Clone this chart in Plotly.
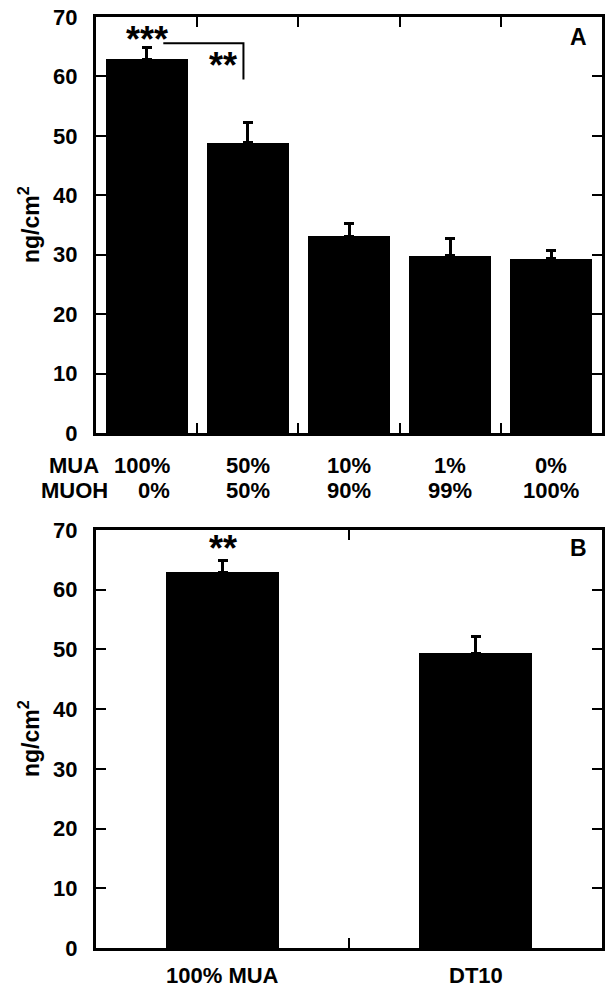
import plotly.graph_objects as go
from plotly.subplots import make_subplots

# ---- data ----
mua_pct = ["100%", "50%", "10%", "1%", "0%"]
muoh_pct = ["0%", "50%", "90%", "99%", "100%"]
top_values = [62.9, 48.8, 33.1, 29.8, 29.3]
top_errors = [2.0, 3.4, 2.1, 2.9, 1.4]

bottom_labels = ["100% MUA", "DT10"]
bottom_values = [62.9, 49.4]
bottom_errors = [2.0, 2.8]

y_ticks = [0, 10, 20, 30, 40, 50, 60, 70]

FONT = "Liberation Sans, Arial, Helvetica, sans-serif"
OFF = 8  # default page body margin
W, H = 614 - OFF, 987 - OFF
L, T = 96 - OFF, 17 - OFF
R = W - (602 - OFF)
B = H - (948 - OFF)

fig = make_subplots(rows=2, cols=1, vertical_spacing=0.10)

fig.add_trace(go.Bar(
    x=list(range(len(top_values))), y=top_values, width=0.81,
    marker=dict(color="black", line=dict(width=0)),
    error_y=dict(type="data", array=top_errors, arrayminus=[0]*len(top_errors),
                 symmetric=False, color="black", thickness=3, width=5),
    showlegend=False), row=1, col=1)

fig.add_trace(go.Bar(
    x=list(range(len(bottom_values))), y=bottom_values, width=0.45,
    marker=dict(color="black", line=dict(width=0)),
    error_y=dict(type="data", array=bottom_errors, arrayminus=[0]*len(bottom_errors),
                 symmetric=False, color="black", thickness=3, width=5),
    showlegend=False), row=2, col=1)

plot_h = H - T - B
top_dom = [(948 - 433) / plot_h, 1.0]
bot_dom = [0.0, (948 - 530) / plot_h]

axis_common = dict(showline=True, linecolor="black", linewidth=3, mirror="allticks",
                   ticks="inside", ticklen=10, tickwidth=2, tickcolor="black",
                   showgrid=False, zeroline=False)
tickfont = dict(size=22, weight="bold", family=FONT, color="black")

fig.update_layout(
    width=W, height=H, margin=dict(l=L, r=R, t=T, b=B, autoexpand=False),
    paper_bgcolor="white", plot_bgcolor="white",
    font=dict(family=FONT, color="black"),
    bargap=0,
    xaxis=dict(axis_common, range=[-0.5, len(top_values) - 0.5],
               tickvals=[i + 0.5 for i in range(len(top_values) - 1)],
               ticktext=[""] * (len(top_values) - 1)),
    yaxis=dict(axis_common, range=[0, 70], tickvals=y_ticks, domain=top_dom,
               tickfont=tickfont, ticklabelstandoff=11, ticklabeloverflow="allow"),
    xaxis2=dict(axis_common, range=[-0.5, len(bottom_values) - 0.5],
                tickvals=[0.5], ticktext=[""]),
    yaxis2=dict(axis_common, range=[0, 70], tickvals=y_ticks, domain=bot_dom,
                tickfont=tickfont, ticklabelstandoff=11, ticklabeloverflow="allow"),
)

bold = dict(family=FONT, size=22, color="black", weight="bold")
PW = W - L - R
ann = []
# top panel category labels
for i, (a, b) in enumerate(zip(mua_pct, muoh_pct)):
    if i == 0:
        ann.append(dict(x=0.25, y=0, xref="x", yref="y", text=a, showarrow=False,
                        xanchor="right", yanchor="middle", yshift=-32, font=bold))
        ann.append(dict(x=0.25, y=0, xref="x", yref="y", text=b, showarrow=False,
                        xanchor="right", yanchor="middle", yshift=-57, font=bold))
    else:
        ann.append(dict(x=i, y=0, xref="x", yref="y", text=a, showarrow=False,
                        xanchor="center", yanchor="middle", yshift=-32, font=bold))
        ann.append(dict(x=i, y=0, xref="x", yref="y", text=b, showarrow=False,
                        xanchor="center", yanchor="middle", yshift=-57, font=bold))
ann.append(dict(x=(74 - 96) / PW, y=0, xref="paper", yref="y", text="MUA",
                showarrow=False, xanchor="center", yanchor="middle", yshift=-32, font=bold))
ann.append(dict(x=(74 - 96) / PW, y=0, xref="paper", yref="y", text="MUOH",
                showarrow=False, xanchor="center", yanchor="middle", yshift=-57, font=bold))
# bottom panel category labels
for i, lab in enumerate(bottom_labels):
    ann.append(dict(x=i, y=0, xref="x2", yref="y2", text=lab, showarrow=False,
                    xanchor="center", yanchor="middle", yshift=-27, font=bold))
# y titles
ytitle_x = (29 - 96) / PW
ytfont = dict(family=FONT, size=23, color="black", weight="bold")
ann.append(dict(x=ytitle_x, y=0.5, xref="paper", yref="y domain", text="ng/cm<sup>2</sup>",
                textangle=-90, showarrow=False, xanchor="center", yanchor="middle", font=ytfont))
ann.append(dict(x=ytitle_x, y=0.5, xref="paper", yref="y2 domain", text="ng/cm<sup>2</sup>",
                textangle=-90, showarrow=False, xanchor="center", yanchor="middle", font=ytfont))
# panel letters
letter = dict(family=FONT, size=23, color="black", weight="bold")
ann.append(dict(x=(578 - 96) / PW, y=(433 - 37) / (433 - 17), xref="x domain", yref="y domain",
                text="A", showarrow=False, xanchor="center", yanchor="middle", font=letter))
ann.append(dict(x=(578 - 96) / PW, y=(948 - 548) / (948 - 530), xref="x2 domain", yref="y2 domain",
                text="B", showarrow=False, xanchor="center", yanchor="middle", font=letter))
# significance stars
star = dict(family=FONT, size=36, color="black", weight="bold")
ann.append(dict(x=0, y=67.6, xref="x", yref="y", text="***", showarrow=False,
                xanchor="center", yanchor="middle", yshift=-8, font=star))
ann.append(dict(x=0.75, y=63.2, xref="x", yref="y", text="**", showarrow=False,
                xanchor="center", yanchor="middle", yshift=-8, font=star))
ann.append(dict(x=0, y=68.2, xref="x2", yref="y2", text="**", showarrow=False,
                xanchor="center", yanchor="middle", yshift=-8, font=star))
fig.update_layout(annotations=ann)

# bracket
fig.add_shape(type="path", path="M 0.165,65.6 L 0.957,65.6 L 0.957,59.5",
              xref="x", yref="y", line=dict(color="black", width=2))

fig.write_html("out.html")
